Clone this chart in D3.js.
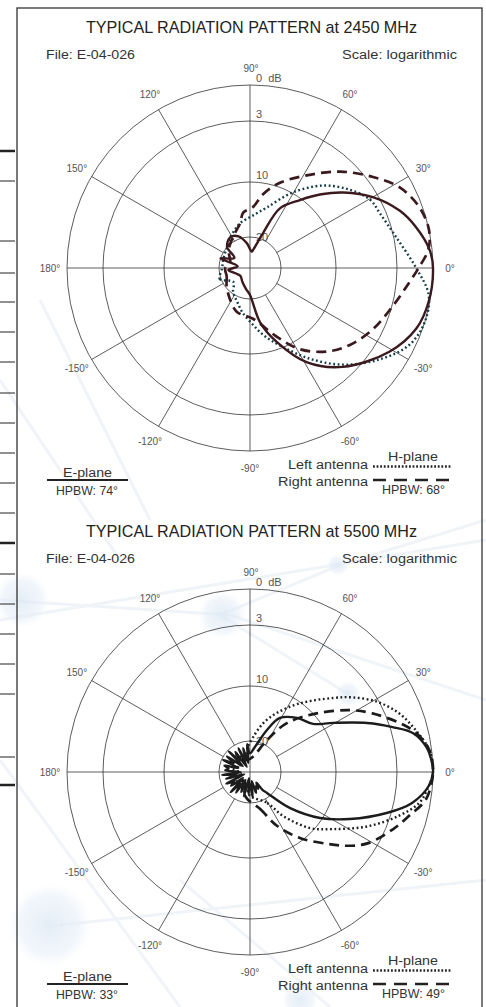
<!DOCTYPE html>
<html><head><meta charset="utf-8">
<script src="https://cdn.jsdelivr.net/npm/d3@7"></script>
<style>body{margin:0;background:#fff} svg{display:block}</style>
</head><body>
<svg id="c" width="486" height="1007"></svg>
<script>
// ---------- data ----------
const ringLevels = [0, 3, 10, 20];
const ringLabels = ["0  dB", "3", "10", "20"];
const angleTicks = [0, 30, 60, 90, 120, 150, 180, -150, -120, -90, -60, -30];
const chartTitles = ["TYPICAL RADIATION PATTERN at 2450 MHz", "TYPICAL RADIATION PATTERN at 5500 MHz"];
const fileLabels = ["File:  E-04-026", "File:  E-04-026"];
const scaleLabels = ["Scale: logarithmic", "Scale: logarithmic"];
const ePlaneHPBW = ["HPBW: 74°", "HPBW: 33°"];
const hPlaneHPBW = ["HPBW: 68°", "HPBW: 49°"];

// [angle in degrees, level in dB below peak]
const ePlane2450 = [[-90,21.3],[-79.5,15.6],[-70,11.3],[-58.8,7.2],[-46.8,4.3],[-31,1.7],[-20,0.5],[-10.7,0.1],[0,0],[5.7,0.2],[13.8,1.0],[21,1.9],[30,3.6],[39,6.1],[46,8.1],[53.7,10.3],[63.4,13.5],[69.6,18.9],[80,24],[84,24.7],[97,22],[110,19.5],[123,19],[137.6,20],[147,24],[162,20],[172,26],[185,23],[200,25],[220,26],[240,25],[260,23]];
const leftH2450 = [[-180,21],[-160,19.8],[-140,23],[-125,20.5],[-111,19.1],[-100,17.5],[-87,15.3],[-78,13],[-68.7,10.5],[-56.6,7.4],[-46.2,4.5],[-35,2.0],[-25.7,0.5],[-17,0],[-8.5,0.2],[0,1.4],[11.9,2.8],[22.9,3.7],[29.5,4.0],[38,5.3],[48.3,7.2],[60.5,9.9],[74.4,14.2],[88,16.2],[102.5,17.3],[112,18.2],[123.7,19.1],[137,20],[149,20.6],[165,21]];
const rightH2450 = [[-180,22],[-160,22],[-143.5,20.6],[-122.8,18.9],[-106.5,17.3],[-86.6,16.4],[-68.6,12.2],[-58.3,8.9],[-47.1,6.8],[-37.6,5.4],[-26.4,4.1],[-14.5,2.9],[-5,1.9],[0,1.2],[6,0.3],[12,0],[19.7,0.25],[28.4,1.1],[36.5,2.5],[46.8,4.7],[58.5,7.4],[70.6,9.5],[80,12],[87,14.5],[97,15.5],[102.5,17.3],[118.7,19.2],[140,21],[166,23.4]];

const ePlane5500 = [[-51,21.3],[-42,15.8],[-33.3,10.4],[-25.2,7.2],[-16.7,3.5],[-10.8,1.5],[-4.4,0.3],[0,0],[2.8,0.06],[8,0.4],[13.5,1.3],[17.5,2.8],[22.7,5.3],[30.6,8.8],[37.3,11.2],[49,12.6],[61,14.4],[68,17.4],[79,21.8],[90,24],[96,21],[101,27],[106,22],[111,26],[116,21.5],[121,28],[126,22],[131,25],[136,20.5],[141,27],[146,21],[151,24],[156,20.5],[161,26],[166,21.5],[171,23],[176,22],[181,27],[186,21],[191,25],[196,22],[201,28],[206,21.5],[211,24],[216,22.5],[221,27],[226,21],[231,25],[236,22],[241,27],[246,23],[251,26],[256,22],[261,28],[266,23],[271,26],[276,22],[281,27],[286,23],[291,25],[296,24],[301,26],[305,23]];
const leftH5500 = [[-90,22.3],[-61,19.2],[-53,15.6],[-43,10.7],[-34.5,8.3],[-24.8,5.0],[-16.3,2.3],[-10.3,0.9],[-4.4,0.3],[0,0],[7,0.2],[14.1,1.0],[21.5,1.9],[28.9,3.2],[36,5.3],[41.7,7.1],[54,10.2],[65.4,13.8],[75,16.5],[85,19.3],[95,22],[110,25],[130,23],[150,26],[170,24],[190,27],[210,24],[230,26],[250,23],[260,24]];
const rightH5500 = [[-96,21.3],[-74.9,18.7],[-63.4,14.7],[-52.9,10.6],[-42.7,7.7],[-37.3,5.9],[-31.3,4.1],[-21.7,2.4],[-15.4,1.5],[-8.7,0.4],[0,0],[7,0.2],[13.1,1.0],[18,2.1],[25.6,4.3],[31.8,6.4],[41.4,9.7],[53,14.5],[62,19.1],[79,25],[100,26],[130,24],[160,27],[190,25],[220,27],[245,24]];

const charts = [
  {title: chartTitles[0], file: fileLabels[0], scale: scaleLabels[0], eH: ePlaneHPBW[0], hH: hPlaneHPBW[0],
   e: ePlane2450, l: leftH2450, r: rightH2450, cE: "#3b1a1f", cL: "#123a47", cR: "#3b1a1f"},
  {title: chartTitles[1], file: fileLabels[1], scale: scaleLabels[1], eH: ePlaneHPBW[1], hH: hPlaneHPBW[1],
   e: ePlane5500, l: leftH5500, r: rightH5500, cE: "#1c1c1c", cL: "#1c1c1c", cR: "#1c1c1c"}
];

// ---------- drawing ----------
const svg = d3.select("#c");
const FONT = "'Liberation Sans', Arial, sans-serif";

// faint background decoration
const defs = svg.append("defs");
const rg = defs.append("radialGradient").attr("id", "blob");
rg.append("stop").attr("offset", "0%").attr("stop-color", "#dce8f4").attr("stop-opacity", 0.8);
rg.append("stop").attr("offset", "70%").attr("stop-color", "#e4edf7").attr("stop-opacity", 0.5);
rg.append("stop").attr("offset", "100%").attr("stop-color", "#eef3f9").attr("stop-opacity", 0);
const bg = svg.append("g");
[[0,620,486,540],[0,600,230,615],[230,615,486,700],[340,565,486,520],[220,615,340,565],[220,615,348,694],[60,925,486,880],[0,760,180,1007],[40,300,150,520],[0,380,120,560],[180,880,330,1007]].forEach(l =>
  bg.append("line").attr("x1", l[0]).attr("y1", l[1]).attr("x2", l[2]).attr("y2", l[3])
    .attr("stroke", "#f0f4f8").attr("stroke-width", 3));
[[22,600,28],[222,615,24],[338,565,11],[348,694,13],[50,925,42],[300,1000,18]].forEach(b =>
  bg.append("circle").attr("cx", b[0]).attr("cy", b[1]).attr("r", b[2]).attr("fill", "url(#blob)"));

// left-edge table rules
const rules = [151,181,241,273,302,332,362,393,423,453,483,513,543,574,604,634,664,694,757,785];
const thick = [151,543,785];
svg.append("g").selectAll("line").data(rules).join("line")
  .attr("x1", 0).attr("x2", 15).attr("y1", d => d).attr("y2", d => d)
  .attr("stroke", "#222").attr("stroke-width", d => thick.includes(d) ? 2.5 : 1);

// frame
svg.append("rect").attr("x", 17).attr("y", 8).attr("width", 465).attr("height", 1010)
  .attr("fill", "none").attr("stroke", "#333").attr("stroke-width", 1.3);

const rScale = d3.scaleLinear().domain([0, 3, 10, 20, 30]).range([183, 147, 86, 31, 0]).clamp(true);
const rad = a => (90 - a) * Math.PI / 180;
const cx = 250;

function txt(g, x, y, s, size, anchor, color, w) {
  const t = g.append("text").attr("x", x).attr("y", y).text(s)
    .attr("font-family", FONT).attr("font-size", size).attr("fill", color)
    .attr("text-anchor", anchor || "start");
  if (w) t.attr("textLength", w).attr("lengthAdjust", "spacingAndGlyphs");
  return t;
}

charts.forEach((c, i) => {
  const g = svg.append("g").attr("transform", `translate(0,${i * 504})`);
  const cy = 268;

  txt(g, 251.5, 33, c.title, 17, "middle", "#222", 331);
  txt(g, 46, 59, c.file, 12, "start", "#333", 89);
  txt(g, 457, 59, c.scale, 12, "end", "#333", 115);

  const p = g.append("g").attr("transform", `translate(${cx},${cy})`);
  // rings
  p.selectAll("circle.ring").data(ringLevels).join("circle").attr("class", "ring")
    .attr("r", d => rScale(d)).attr("fill", "none").attr("stroke", "#333").attr("stroke-width", 0.8);
  // spokes
  p.selectAll("line.spoke").data(angleTicks).join("line").attr("class", "spoke")
    .attr("x1", d => (d % 90 === 0 ? 0 : rScale(20) * Math.cos(d * Math.PI / 180)))
    .attr("y1", d => (d % 90 === 0 ? 0 : -rScale(20) * Math.sin(d * Math.PI / 180)))
    .attr("x2", d => rScale(0) * Math.cos(d * Math.PI / 180))
    .attr("y2", d => -rScale(0) * Math.sin(d * Math.PI / 180))
    .attr("stroke", "#333").attr("stroke-width", 0.8);
  // angle labels
  p.selectAll("text.ang").data(angleTicks).join("text").attr("class", "ang")
    .attr("x", d => 200 * Math.cos(d * Math.PI / 180) + (d === 90 ? 1 : 0))
    .attr("y", d => -200 * Math.sin(d * Math.PI / 180))
    .attr("dy", "0.35em").attr("text-anchor", "middle")
    .attr("font-family", FONT).attr("font-size", 10).attr("fill", "#555")
    .text(d => d + "°");
  // ring labels
  p.selectAll("text.rl").data(ringLevels).join("text").attr("class", "rl")
    .attr("x", 6).attr("y", d => -rScale(d) - (d === 20 ? -4 : 3))
    .attr("font-family", FONT).attr("font-size", 11).attr("fill", "#555")
    .attr("xml:space", "preserve")
    .text((d, k) => ringLabels[k]);

  const line = d3.lineRadial().angle(d => rad(d[0])).radius(d => rScale(d[1]))
    .curve(d3.curveCatmullRomClosed.alpha(0.5));
  p.append("path").attr("d", line(c.l)).attr("fill", "none").attr("stroke", c.cL)
    .attr("stroke-width", 2.4).attr("stroke-dasharray", "1.8 2.6");
  p.append("path").attr("d", line(c.r)).attr("fill", "none").attr("stroke", c.cR)
    .attr("stroke-width", 2.7).attr("stroke-dasharray", "10 6");
  p.append("path").attr("d", line(c.e)).attr("fill", "none").attr("stroke", c.cE)
    .attr("stroke-width", 2.4).attr("stroke-linejoin", "round");

  // legend
  txt(g, 87.5, 477, "E-plane", 12, "middle", "#333", 49);
  g.append("line").attr("x1", 47).attr("x2", 128).attr("y1", 480).attr("y2", 480)
    .attr("stroke", "#222").attr("stroke-width", 2.2);
  txt(g, 87, 495, c.eH, 12, "middle", "#333", 62);
  txt(g, 413, 461, "H-plane", 12, "middle", "#333", 50);
  txt(g, 368, 469, "Left antenna", 12, "end", "#333", 80);
  g.append("line").attr("x1", 373).attr("x2", 452).attr("y1", 466.5).attr("y2", 466.5)
    .attr("stroke", "#222").attr("stroke-width", 2.4).attr("stroke-dasharray", "1.8 1.8");
  txt(g, 368, 486, "Right antenna", 12, "end", "#333", 90);
  g.append("line").attr("x1", 373).attr("x2", 452).attr("y1", 480).attr("y2", 480)
    .attr("stroke", "#222").attr("stroke-width", 2.6).attr("stroke-dasharray", "13 8");
  txt(g, 413.5, 494, c.hH, 12, "middle", "#333", 63);
});
</script>
</body></html>
